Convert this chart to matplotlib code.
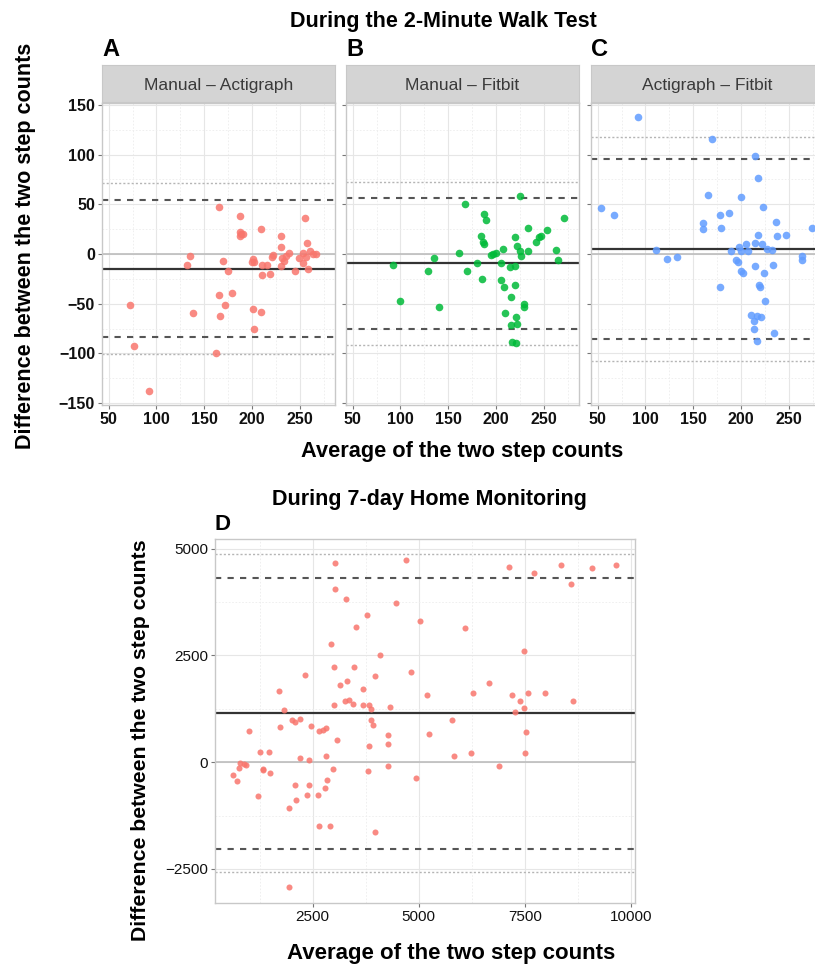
import numpy as np
from matplotlib import pyplot as plt

plt.rcParams['font.family'] = ['Liberation Sans', 'DejaVu Sans']

# panel A: Manual - Actigraph
a_x = [166, 187.5, 187, 189, 187, 191, 210, 230, 230, 256, 258, 135.5, 132, 170, 175, 200, 201, 202,
       210.5, 210.5, 216, 219, 221, 222.5, 232, 234, 236, 239, 230, 245, 249, 253, 253, 257, 261, 264,
       267, 259, 72.5, 76.5, 92, 138, 165, 172, 179, 167, 162.5, 201, 210, 202.5]
a_y = [47, 38, 22, 20, 18, 20, 25, 18, 7, 36, 11, -2, -11, -7, -17, -8, -5, -8,
       -11, -21, -11, -20, -3, -1, -4, -7, -2, 1, -12, -17, -4, 1, -9, -3, 3, 0,
       0, -15, -51, -93, -138, -59, -41, -51, -39, -62, -100, -55, -58, -75]

# panel B: Manual - Fitbit
b_x = [225.5, 167.5, 188, 190, 271, 233.5, 253, 247.5, 245, 242, 220.5, 184, 186.5, 187, 222, 225,
       226, 233.5, 207.5, 197, 200, 195, 161.5, 135, 92.5, 129, 170, 180, 205.5, 215, 219.5, 185.5,
       205, 208.5, 220.5, 216, 262.5, 265, 99.5, 140.5, 210, 229, 229, 221.5, 216, 222, 217, 221]
b_y = [58, 50, 40, 34, 36, 26, 24, 18, 17, 12, 17, 18, 12, 10, 8, 3,
       -2, 3, 5, 0, 1, -1, 1, -4, -11, -17, -17, -9, -9, -13, -12, -25,
       -26, -33, -31, -43, 4, -6, -47, -53, -59, -50, -53, -63, -71, -70, -89, -90]

# panel C: Actigraph - Fitbit
c_x = [92.5, 170, 214.5, 218, 53.5, 67, 165, 200.5, 223, 178, 187, 160.5, 160, 179.5, 237, 238,
       247.5, 218, 274.5, 111, 123, 133.5, 190, 197.5, 200.5, 205.5, 207, 214.5, 222.5, 227, 233,
       194.5, 197, 200, 202, 214.5, 224, 233.5, 264, 264, 178, 219, 220, 225, 211, 217, 221, 214,
       214, 234.5, 217]
c_y = [138, 116, 99, 76, 46, 39, 59, 57, 47, 39, 41, 31, 25, 26, 32, 18,
       19, 19, 26, 4, -5, -3, 3, 7, 3, 10, 3, 11, 10, 5, 4,
       -6, -8, -17, -19, -12, -19, -11, -2, -6, -33, -31, -33, -47, -61, -62, -63, -67,
       -75, -80, -88]

# panel D: 7-day home monitoring
d_x = [3035, 4710, 7140, 7710, 8365, 9090, 9660, 8590, 3020, 3295, 4475, 3780, 3530, 5025, 6085,
       7490, 2940, 4080, 2995, 3465, 2310, 3960, 4825, 3150, 3310, 3685, 6660, 1715, 5195, 6280,
       7200, 7570, 7990, 8640, 7400, 7265, 7490, 7530, 7500, 3270, 3350, 3450, 2995, 3700, 3820,
       3875, 4330, 1815, 2015, 2095, 2195, 1735, 2460, 2640, 2745, 2820, 3875, 3915, 5785, 990,
       3075, 4275, 4275, 5250, 3820, 1250, 1480, 2195, 2420, 2820, 5840, 6235, 780, 890, 935,
       620, 755, 730, 1330, 1320, 1500, 2970, 3795, 4270, 6905, 4935, 2840, 2075, 2405, 2785,
       1210, 2115, 2365, 2625, 1950, 2655, 2900, 3980, 1935]
d_y = [4670, 4730, 4580, 4440, 4630, 4540, 4630, 4180, 4070, 3830, 3720, 3460, 3165, 3305, 3135,
       2615, 2775, 2500, 2235, 2235, 2040, 2015, 2115, 1805, 1900, 1720, 1845, 1665, 1585, 1625,
       1565, 1625, 1610, 1430, 1430, 1180, 1260, 705, 205, 1440, 1450, 1375, 1335, 1335, 1335,
       1235, 1295, 1225, 1000, 940, 1015, 820, 845, 725, 750, 790, 985, 860, 985, 740,
       515, 635, 430, 650, 390, 235, 235, 95, 45, 140, 140, 220, -30, -40, -55,
       -290, -135, -445, -150, -190, -250, -155, -210, -80, -95, -365, -420, -525, -540, -600,
       -795, -875, -760, -760, -1085, -1485, -1485, -1640, -2930]

# reference lines: mean, limits of agreement, outer dotted lines
strips = ['Manual \u2013 Actigraph', 'Manual \u2013 Fitbit', 'Actigraph \u2013 Fitbit']
means = [-15.5, -9.5, 5]
loa_hi = [54, 56, 96]
loa_lo = [-84, -75.5, -86]
dot_hi = [71, 72.5, 118]
dot_lo = [-101, -92, -108]
d_mean, d_hi, d_lo, d_dhi, d_dlo = 1155, 4305, -2025, 4885, -2570

cols = ['#F8766D', '#00BA38', '#619CFF']
W, H = 815, 967


def px(l, t, w, h):
    return [l / W, 1 - (t + h) / H, w / W, h / H]


def style(ax, major_x, minor_x, major_y, minor_y, fs, bold):
    ax.set_facecolor('white')
    for v in major_x:
        ax.axvline(v, color='#e6e6e6', lw=0.8, zorder=0)
    for v in minor_x:
        ax.axvline(v, color='#ededed', lw=0.6, ls=(0, (2, 2)), zorder=0)
    for v in major_y:
        ax.axhline(v, color='#e6e6e6', lw=0.8, zorder=0)
    for v in minor_y:
        ax.axhline(v, color='#ededed', lw=0.6, ls=(0, (2, 2)), zorder=0)
    for s in ax.spines.values():
        s.set_color('#c8c8c8')
        s.set_linewidth(1.0)
    ax.tick_params(length=3, color='#777777', labelsize=fs, pad=2, labelcolor='#111111')
    for lab in ax.get_xticklabels() + ax.get_yticklabels():
        lab.set_fontweight('bold' if bold else 'normal')


def ref_lines(ax, m, hi, lo, dhi, dlo):
    ax.axhline(0, color='#bdbdbd', lw=1.2, zorder=1)
    ax.axhline(dhi, color='#b5b5b5', lw=1.0, ls=(0, (1.5, 1.5)), zorder=1)
    ax.axhline(dlo, color='#b5b5b5', lw=1.0, ls=(0, (1.5, 1.5)), zorder=1)
    ax.axhline(hi, color='#555555', lw=1.5, ls=(0, (3, 3)), zorder=1)
    ax.axhline(lo, color='#555555', lw=1.5, ls=(0, (3, 3)), zorder=1)
    ax.axhline(m, color='#333333', lw=1.6, zorder=1)


fig = plt.figure(figsize=(8.15, 9.67), dpi=100)
lefts = [102, 346, 591]
data = [(a_x, a_y), (b_x, b_y), (c_x, c_y)]
for i in range(3):
    ax = fig.add_axes(px(lefts[i], 103, 233, 302))
    ref_lines(ax, means[i], loa_hi[i], loa_lo[i], dot_hi[i], dot_lo[i])
    ax.scatter(data[i][0], data[i][1], s=30, color=cols[i], alpha=0.85, lw=0, zorder=3)
    ax.set_xlim(43, 287)
    ax.set_ylim(-152, 152)
    ax.set_xticks([50, 100, 150, 200, 250])
    ax.set_yticks([-150, -100, -50, 0, 50, 100, 150])
    if i > 0:
        ax.set_yticklabels([])
        ax.tick_params(axis='y', length=0)
    style(ax, [50, 100, 150, 200, 250], [75, 125, 175, 225, 275],
          [-150, -100, -50, 0, 50, 100, 150], [-125, -75, -25, 25, 75, 125], 11.5, True)
    st = fig.add_axes(px(lefts[i], 65, 233, 37))
    st.set_facecolor('#d4d4d4')
    st.set_xticks([])
    st.set_yticks([])
    for s in st.spines.values():
        s.set_color('#c8c8c8')
    st.text(0.5, 0.45, strips[i], ha='center', va='center', fontsize=12.5, color='#3a3a3a')
    fig.text(lefts[i] / W, 1 - 49 / H, 'ABC'[i], fontsize=17, fontweight='bold', va='center')

fig.text(443 / W, 1 - 21 / H, 'During the 2-Minute Walk Test', ha='center', va='center',
         fontsize=15.5, fontweight='bold')
fig.text(26 / W, 1 - 246 / H, 'Difference between the two step counts', rotation=90,
         ha='center', va='center', fontsize=15.5, fontweight='bold')
fig.text(462 / W, 1 - 452 / H, 'Average of the two step counts', ha='center', va='center',
         fontsize=15.7, fontweight='bold')

# panel D
ax = fig.add_axes(px(215, 539, 420, 364))
ref_lines(ax, d_mean, d_hi, d_lo, d_dhi, d_dlo)
ax.scatter(d_x, d_y, s=19, color=cols[0], alpha=0.85, lw=0, zorder=3)
ax.set_xlim(200, 10100)
ax.set_ylim(-3300, 5230)
ax.set_xticks([2500, 5000, 7500, 10000])
ax.set_yticks([-2500, 0, 2500, 5000])
style(ax, [2500, 5000, 7500, 10000], [1250, 3750, 6250, 8750],
      [-2500, 0, 2500, 5000], [-1250, 1250, 3750], 11, False)
fig.text(429 / W, 1 - 500 / H, 'During 7-day Home Monitoring', ha='center', va='center',
         fontsize=15.5, fontweight='bold')
fig.text(215 / W, 1 - 525 / H, 'D', fontsize=16, fontweight='bold', va='center')
fig.text(140 / W, 1 - 740 / H, 'Difference between the two step counts', rotation=90,
         ha='center', va='center', fontsize=15.3, fontweight='bold')
fig.text(451 / W, 1 - 954 / H, 'Average of the two step counts', ha='center', va='center',
         fontsize=16, fontweight='bold')

plt.savefig('out.png', dpi=100)
